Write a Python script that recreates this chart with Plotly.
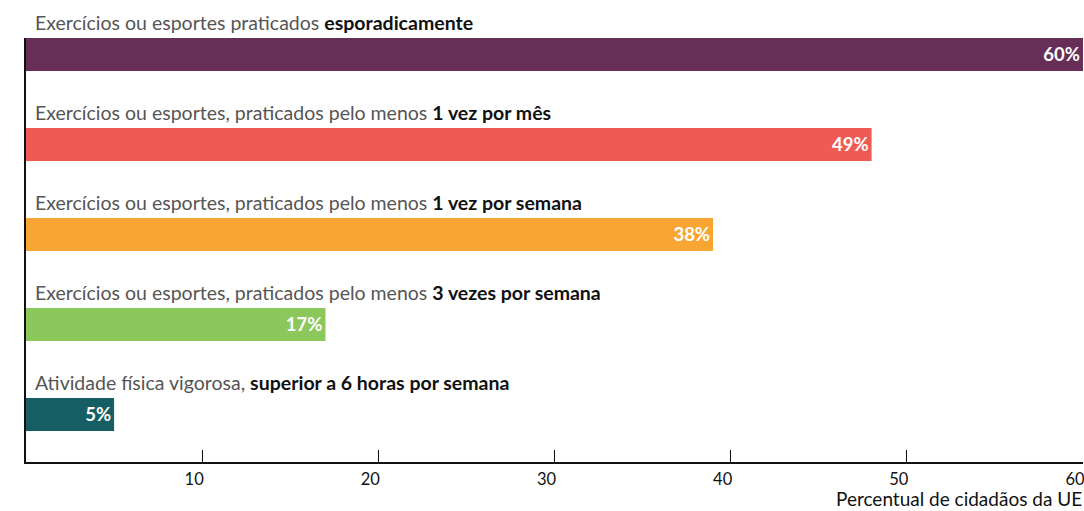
import plotly.graph_objects as go

categories_regular = [
    "Exercícios ou esportes praticados",
    "Exercícios ou esportes, praticados pelo menos",
    "Exercícios ou esportes, praticados pelo menos",
    "Exercícios ou esportes, praticados pelo menos",
    "Atividade física vigorosa,",
]
categories_bold = [
    "esporadicamente",
    "1 vez por mês",
    "1 vez por semana",
    "3 vezes por semana",
    "superior a 6 horas por semana",
]
values = [60, 48, 39, 17, 5]
value_labels = ["60%", "49%", "38%", "17%", "5%"]
colors = ["#672F57", "#F05A55", "#F9A533", "#8BC75A", "#155E63"]
tick_values = [10, 20, 30, 40, 50, 60]
axis_title = "Percentual de cidadãos da UE"

FONT = "Lato"
positions = list(range(len(values)))

fig = go.Figure()
fig.add_trace(go.Bar(
    x=values, y=positions, orientation="h",
    marker=dict(color=colors, line=dict(width=0)),
    width=0.367,
    text=[f"<b>{t}</b>" for t in value_labels],
    textposition="inside", insidetextanchor="end",
    textfont=dict(color="white", size=18.5, family=FONT),
    hoverinfo="skip",
))

for i, (r, b) in enumerate(zip(categories_regular, categories_bold)):
    fig.add_annotation(
        x=0, y=i, xref="x", yref="y",
        xanchor="left", yanchor="middle", xshift=7, yshift=32,
        text=f"<span style='color:#555555'>{r}</span> <b>{b}</b>",
        showarrow=False,
        font=dict(size=19.5, family=FONT, color="#111111"),
    )

fig.add_annotation(
    x=1, y=0, xref="paper", yref="paper", yshift=-49,
    xanchor="right", yanchor="bottom", borderpad=0,
    text=axis_title, showarrow=False,
    font=dict(size=19, family=FONT, color="#111111"),
)

fig.update_layout(
    width=1084, height=511,
    margin=dict(l=26, r=1, t=38, b=49, autoexpand=False),
    paper_bgcolor="white", plot_bgcolor="white",
    showlegend=False,
    uniformtext=dict(mode=False),
    xaxis=dict(
        range=[0, 60.001], tickvals=tick_values,
        ticks="inside", ticklen=12, tickcolor="#111111", tickwidth=1,
        showline=True, linecolor="#111111", linewidth=1.5,
        showgrid=False, zeroline=False,
        ticklabelshift=-8, ticklabelstandoff=1,
        ticklabeloverflow="allow",
        tickfont=dict(size=16.5, family=FONT, color="#111111"),
    ),
    yaxis=dict(
        range=[4.528, -0.183], showticklabels=False,
        showline=True, linecolor="#111111", linewidth=1.5,
        showgrid=False, zeroline=False, ticks="",
    ),
)

fig.write_html("out.html", config={"displayModeBar": False},
               post_script="document.body.style.margin='0px';")
